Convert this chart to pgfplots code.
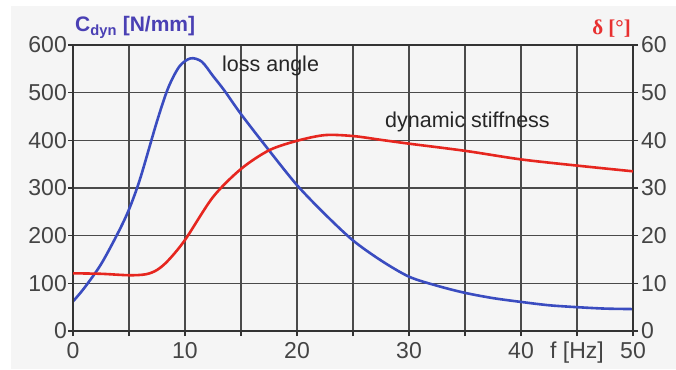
\documentclass[border=0pt]{standalone}
\usepackage{pgfplots}
\pgfplotsset{compat=1.18}
\usepackage{fontspec}
\setmainfont{Liberation Sans}
\newfontfamily\serifb{Liberation Serif}
\definecolor{bg}{HTML}{F5F5F5}
\definecolor{gridc}{HTML}{4A4A4A}
\definecolor{tickc}{HTML}{444444}
\definecolor{blueline}{HTML}{3A4CC0}
\definecolor{redline}{HTML}{E6261F}
\definecolor{bluetitle}{HTML}{4A40B4}
\definecolor{redtitle}{HTML}{E83030}
\begin{document}
\begin{tikzpicture}[x=1pt,y=1pt]
\fill[white] (0,0) rectangle (676,369);
\fill[bg] (11,0) rectangle (676,363);
\begin{axis}[at={(73pt,38pt)}, anchor=south west, scale only axis,
  width=560pt, height=286pt,
  xmin=0, xmax=50, ymin=0, ymax=600,
  xtick={0,5,...,50}, xticklabels={0,,10,,20,,30,,40,f [Hz],50},
  ytick={0,100,...,600},
  xtick pos=bottom, ytick pos=left,
  grid=major, grid style={draw=gridc, line width=1.1pt},
  axis line style={draw=black!80, line width=1.3pt},
  tick style={draw=black!80, line width=1.2pt},
  tick align=outside, major tick length=5pt,
  ticklabel style={font=\fontsize{23}{25}\selectfont, text=tickc},
  xticklabel style={inner sep=2pt, yshift=-4pt},
  yticklabel style={inner sep=1pt},
  /pgf/number format/assume math mode=true,
  clip=false]
\addplot[blueline, line width=2.6pt, smooth, tension=0.5] coordinates {
(0,62) (1,90) (2.5,140) (4,205) (5,255) (6,320) (7.5,440) (8.5,510) (9.5,555)
(10.5,572) (11.5,565) (12.5,535) (13.5,505) (15,455) (17.5,379) (20,306)
(22.5,245) (25,190) (27.5,148) (30,114) (32.5,95) (35,80) (37.5,69) (40,61)
(42.5,54) (45,50) (47.5,47) (50,46)};
\end{axis}
\begin{axis}[at={(73pt,38pt)}, anchor=south west, scale only axis,
  width=560pt, height=286pt,
  xmin=0, xmax=50, ymin=0, ymax=60,
  hide x axis,
  ytick={0,10,...,60}, ytick pos=right,
  axis line style={draw=black!80, line width=1.3pt},
  tick style={draw=black!80, line width=1.2pt},
  tick align=outside, major tick length=5pt,
  ticklabel style={font=\fontsize{23}{25}\selectfont, text=tickc},
  yticklabel style={inner sep=1pt, xshift=2pt},
  /pgf/number format/assume math mode=true,
  clip=false]
\addplot[redline, line width=2.6pt, smooth, tension=0.5] coordinates {
(0,12.1) (2.5,12.0) (5,11.7) (6.5,11.9) (7.5,12.8) (8.5,14.8) (10,19.1)
(12.5,28.1) (15,34) (17.5,37.9) (20,39.9) (22.5,41.1) (25,40.9) (27.5,40.1)
(30,39.3) (35,37.8) (40,36.0) (45,34.7) (50,33.5)};
\end{axis}
\node[anchor=west, inner sep=0pt, font=\fontsize{21.5}{24}\selectfont, text=black!85] at (222,303) {loss angle};
\node[anchor=west, inner sep=0pt, font=\fontsize{21.5}{24}\selectfont, text=black!85] at (385,247) {dynamic stiffness};
\node[anchor=base west, inner sep=0pt, font=\fontsize{21}{24}\bfseries, text=bluetitle] at (75,337) {C\textsubscript{dyn} [N/mm]};
\node[anchor=base east, inner sep=0pt, font=\fontsize{21}{24}\bfseries\serifb, text=redtitle] at (631,334) {δ [°]};
\pgfresetboundingbox
\useasboundingbox (0,0) rectangle (676,369);
\end{tikzpicture}
\end{document}
